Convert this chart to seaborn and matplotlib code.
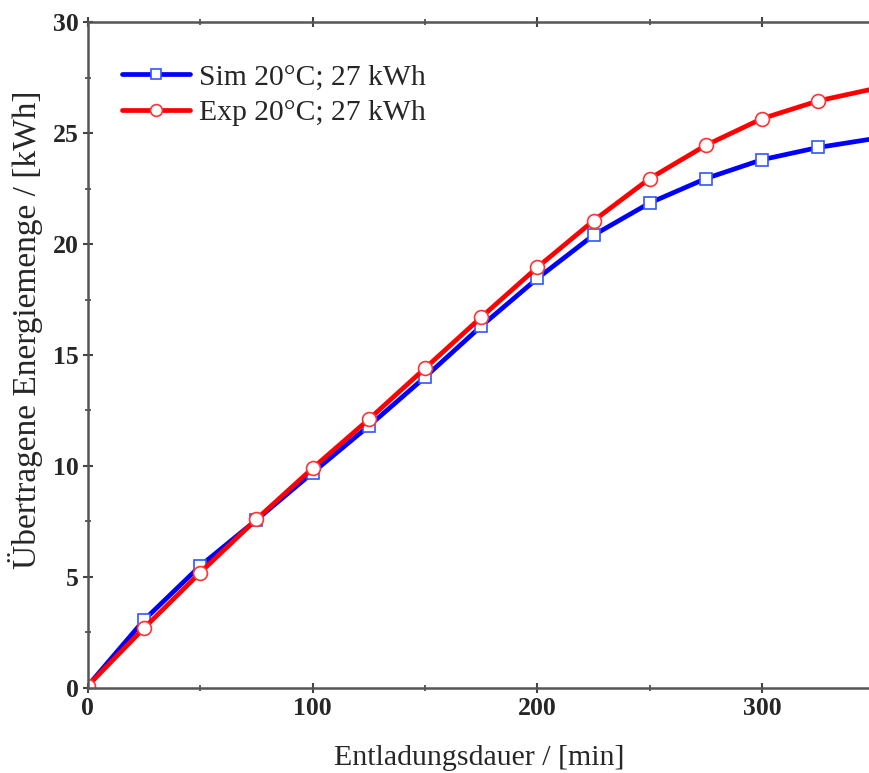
import numpy as np
import pandas as pd
import matplotlib
matplotlib.use("Agg")
import matplotlib.pyplot as plt
import seaborn as sns
from matplotlib.ticker import MultipleLocator

# discharge time [min] and transferred energy [kWh]
t_min = [0, 25, 50, 75, 100, 125, 150, 175, 200, 225, 250, 275, 300, 325, 350]
sim_kwh = [0.1, 3.06, 5.5, 7.57, 9.7, 11.8, 14.0, 16.3, 18.45, 20.4, 21.85, 22.95, 23.8, 24.35, 24.75]
exp_kwh = [0.1, 2.7, 5.2, 7.6, 9.9, 12.1, 14.4, 16.7, 18.95, 21.05, 22.95, 24.45, 25.65, 26.45, 27.0]
labels = ["Sim 20°C; 27 kWh", "Exp 20°C; 27 kWh"]

sns.set_theme(style="ticks")
plt.rcParams['font.family'] = ['Liberation Serif', 'DejaVu Serif']

fig = plt.figure(figsize=(8.7, 7.73), dpi=100)
ax = fig.add_axes([0.101, 0.110, 0.899, 0.8615])

marks = list(range(len(t_min) - 1))
sns.lineplot(x=t_min, y=sim_kwh, ax=ax, color="#0000ff", lw=3.4, marker="s",
             markersize=9, markerfacecolor="white", markeredgecolor="#3355ff",
             markeredgewidth=1.2, markevery=marks, label=labels[0])
sns.lineplot(x=t_min, y=exp_kwh, ax=ax, color="#ff0000", lw=3.4, marker="o",
             markersize=10, markerfacecolor="white", markeredgecolor="#ff3333",
             markeredgewidth=1.2, markevery=marks, label=labels[1])

ax.set_xlim(0, 348)
ax.set_ylim(0, 30)
ax.xaxis.set_major_locator(MultipleLocator(100))
ax.xaxis.set_minor_locator(MultipleLocator(50))
ax.yaxis.set_major_locator(MultipleLocator(5))
ax.yaxis.set_minor_locator(MultipleLocator(2.5))
ax.tick_params(which="both", direction="inout", top=True, right=False, color="#444444")
ax.tick_params(which="major", length=7, width=1.5, labelsize=18.5, pad=3)
ax.tick_params(which="minor", length=4, width=1.2)
for lab in ax.get_xticklabels() + ax.get_yticklabels():
    lab.set_fontweight("bold")

for side in ["left", "bottom", "top"]:
    ax.spines[side].set_color("#555555")
    ax.spines[side].set_linewidth(1.8)
ax.spines["right"].set_visible(False)

ax.set_xlabel("Entladungsdauer / [min]", fontsize=21.5, labelpad=18)
ax.set_ylabel("Übertragene Energiemenge / [kWh]", fontsize=24)
ax.yaxis.set_label_coords(-0.057, 0.538)

leg = ax.legend(loc="upper left", frameon=False, fontsize=21.3, handlelength=2.3,
                handletextpad=0.3, labelspacing=0.3, borderaxespad=0.0,
                markerscale=0.85, bbox_to_anchor=(0.028, 0.955))

fig.savefig("out.png", dpi=100)
